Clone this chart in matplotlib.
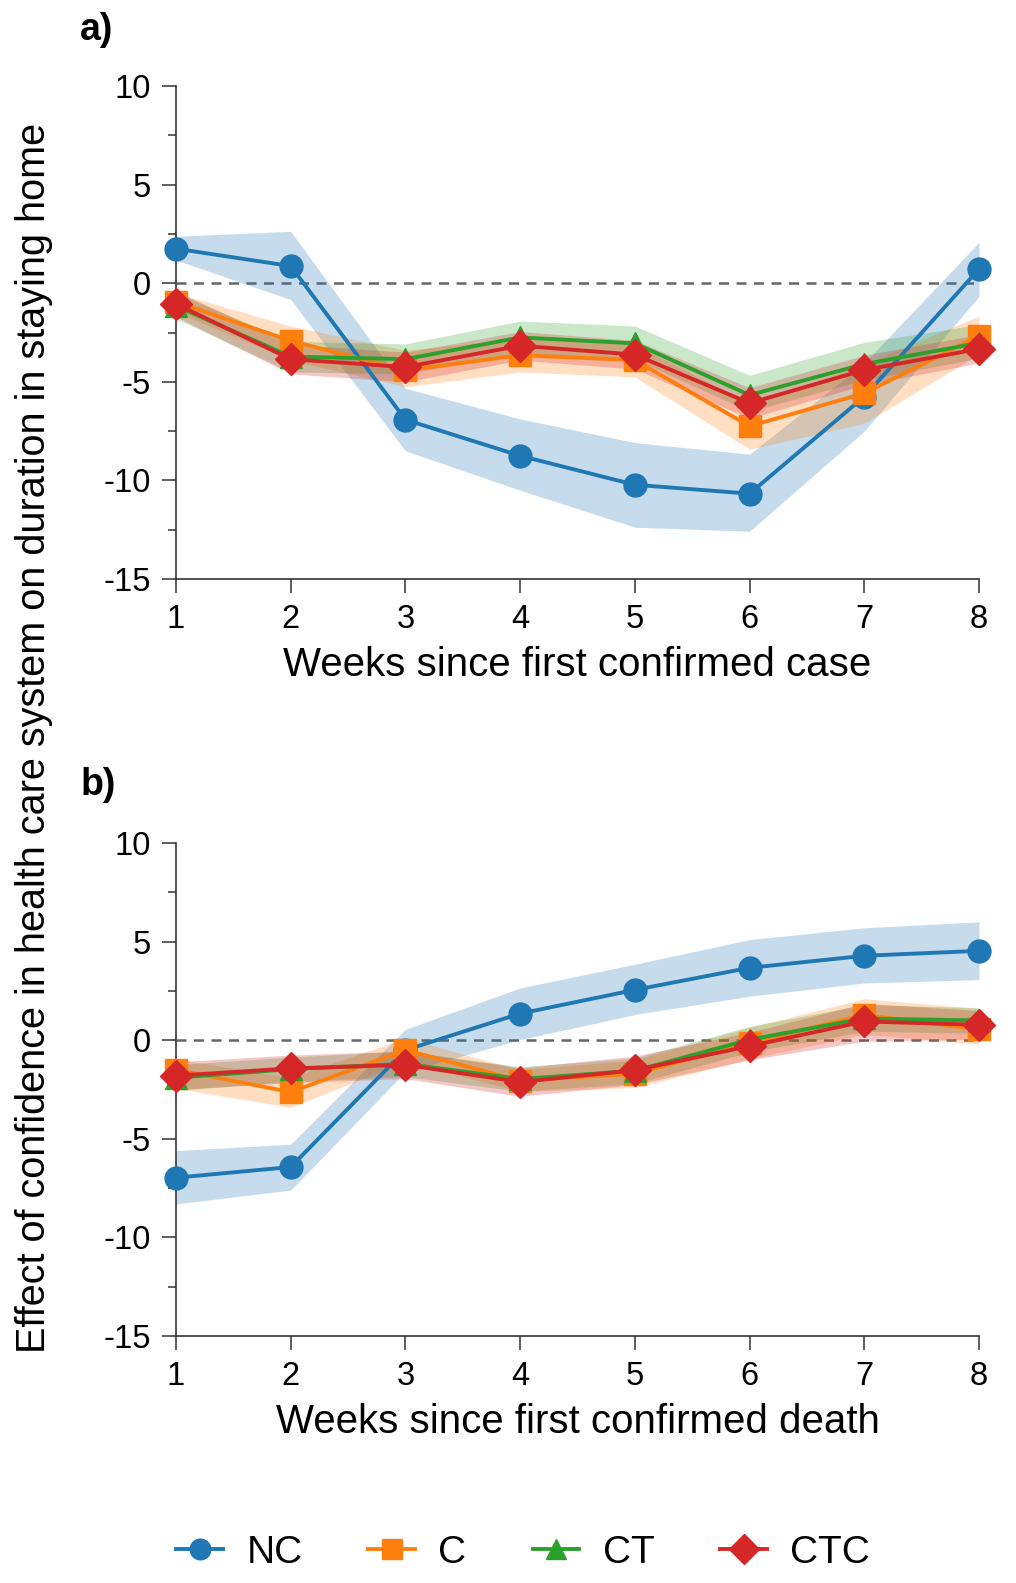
import numpy as np
import matplotlib
matplotlib.use('Agg')
import matplotlib.pyplot as plt
from matplotlib.ticker import MultipleLocator

plt.rcParams['font.family'] = ['Liberation Sans', 'DejaVu Sans']
plt.rcParams['axes.unicode_minus'] = False

weeks = [1, 2, 3, 4, 5, 6, 7, 8]
groups = ['NC', 'C', 'CT', 'CTC']
colors = ['#1f77b4', '#ff7f0e', '#2ca02c', '#d62728']
markers = ['o', 's', '^', 'D']

# panel a: weeks since first confirmed case
a_mean = {
    'NC':  [1.75, 0.87, -6.92, -8.75, -10.22, -10.67, -5.75, 0.72],
    'C':   [-0.95, -2.92, -4.42, -3.65, -3.9, -7.25, -5.58, -2.67],
    'CT':  [-1.15, -3.72, -3.85, -2.75, -3.05, -5.67, -4.1, -3.03],
    'CTC': [-1.05, -3.85, -4.25, -3.17, -3.62, -6.08, -4.4, -3.33],
}
a_low = {
    'NC':  [1.17, -0.83, -8.5, -10.5, -12.37, -12.58, -7.5, -0.67],
    'C':   [-1.45, -3.9, -5.25, -4.5, -4.75, -8.42, -7.1, -3.6],
    'CT':  [-1.8, -4.5, -4.6, -3.55, -3.85, -6.5, -4.9, -3.8],
    'CTC': [-1.7, -4.6, -5.0, -3.9, -4.35, -6.85, -5.15, -4.05],
}
a_high = {
    'NC':  [2.38, 2.63, -5.33, -6.88, -8.08, -8.67, -4.05, 2.08],
    'C':   [-0.5, -2.17, -3.4, -2.8, -3.1, -6.1, -4.1, -1.67],
    'CT':  [-0.5, -2.95, -3.08, -1.92, -2.17, -4.67, -3.0, -2.1],
    'CTC': [-0.4, -3.1, -3.5, -2.45, -2.9, -5.3, -3.65, -2.6],
}

# panel b: weeks since first confirmed death
b_mean = {
    'NC':  [-6.97, -6.43, -0.5, 1.35, 2.55, 3.67, 4.28, 4.53],
    'C':   [-1.5, -2.63, -0.5, -2.05, -1.7, -0.15, 1.28, 0.55],
    'CT':  [-1.9, -1.47, -1.2, -1.97, -1.55, 0.03, 1.1, 1.0],
    'CTC': [-1.8, -1.43, -1.25, -2.12, -1.52, -0.3, 0.95, 0.78],
}
b_low = {
    'NC':  [-8.3, -7.6, -1.6, 0.03, 1.3, 2.23, 2.9, 3.07],
    'C':   [-2.45, -3.4, -1.1, -2.6, -2.4, -0.95, 0.3, -0.2],
    'CT':  [-2.55, -2.1, -1.85, -2.6, -2.2, -0.6, 0.45, 0.35],
    'CTC': [-2.5, -2.15, -1.95, -2.85, -2.25, -1.0, -0.05, 0.05],
}
b_high = {
    'NC':  [-5.6, -5.27, 0.55, 2.65, 3.85, 5.1, 5.7, 6.0],
    'C':   [-0.95, -1.9, 0.1, -1.5, -1.0, 0.65, 2.1, 1.6],
    'CT':  [-1.25, -0.85, -0.55, -1.35, -0.9, 0.7, 1.8, 1.65],
    'CTC': [-1.1, -0.75, -0.55, -1.4, -0.8, 0.4, 1.87, 1.5],
}

fig = plt.figure(figsize=(10.16, 15.83), dpi=100)
ax_a = fig.add_axes([0.1732, 0.6342, 0.7904, 0.3115])
ax_b = fig.add_axes([0.1732, 0.156, 0.7904, 0.3115])

panels = [
    (ax_a, a_mean, a_low, a_high, 'Weeks since first confirmed case', 'a)', 0.981),
    (ax_b, b_mean, b_low, b_high, 'Weeks since first confirmed death', 'b)', 0.504),
]

for ax, mean, low, high, xlabel, tag, tag_y in panels:
    ax.axhline(0, color='#666666', ls=(0, (4, 3)), lw=1.8, zorder=1)
    for g, c, m in zip(groups, colors, markers):
        ax.fill_between(weeks, low[g], high[g], color=c, alpha=0.25, lw=0, zorder=2)
        ax.plot(weeks, mean[g], color=c, marker=m, ms=16.5, lw=2.8, label=g,
                zorder=3, clip_on=False)
    ax.set_xlim(1, 8)
    ax.set_ylim(-15, 10)
    ax.set_xticks(weeks)
    ax.yaxis.set_major_locator(MultipleLocator(5))
    ax.yaxis.set_minor_locator(MultipleLocator(2.5))
    for s in ['top', 'right']:
        ax.spines[s].set_visible(False)
    for s in ['left', 'bottom']:
        ax.spines[s].set_color('#333333')
        ax.spines[s].set_linewidth(1.2)
    ax.tick_params(which='major', length=10, width=1.1, color='#333333',
                   labelsize=23.5, pad=8)
    ax.tick_params(which='minor', length=5.5, width=1.1, color='#333333')
    ax.set_xlabel(xlabel, fontsize=29, labelpad=8)
    fig.text(0.079, tag_y, tag, fontsize=27, fontweight='bold', va='center')

fig.text(0.033, 0.534, 'Effect of confidence in health care system on duration in staying home',
         rotation=90, fontsize=28.5, va='center', ha='center')

handles, labels = ax_a.get_legend_handles_labels()
fig.legend(handles, labels, loc='center', bbox_to_anchor=(0.515, 0.019), ncol=4,
           frameon=False, fontsize=28, handlelength=1.2, handletextpad=0.6,
           columnspacing=1.7, markerscale=0.9)

fig.savefig('out.png', dpi=100)
